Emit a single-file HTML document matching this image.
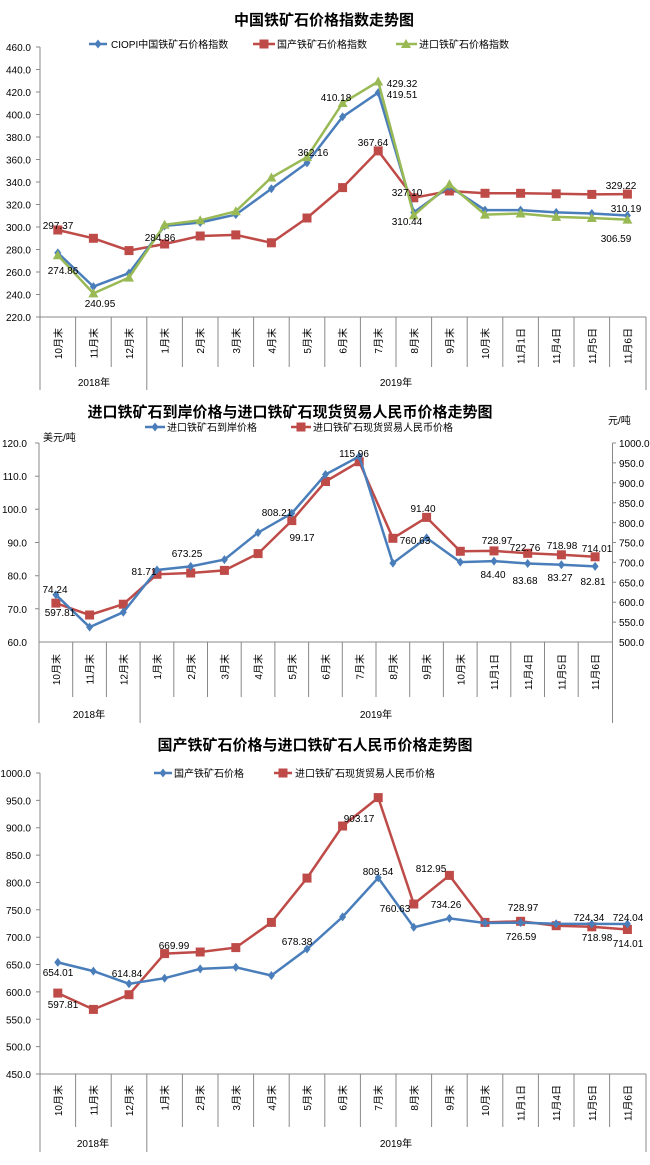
<!DOCTYPE html>
<html><head><meta charset="utf-8"><style>
body{margin:0;background:#fff}
svg{display:block;font-family:"Liberation Sans","Noto Sans CJK SC",sans-serif}
.t{font-size:15px;font-weight:bold;text-anchor:middle}
.a{font-size:10px;text-anchor:end}
.r{font-size:10px;text-anchor:start}
.l{font-size:10px}
.d{font-size:10px;text-anchor:middle}
.c{font-size:10px;text-anchor:end}
.y{font-size:10px;text-anchor:middle}
.ax{stroke:#888;stroke-width:1;fill:none}
.b{stroke:#4a7ebb;stroke-width:2.5;fill:none}
.rd{stroke:#be4b48;stroke-width:2.5;fill:none}
.g{stroke:#98b954;stroke-width:2.5;fill:none}
</style></head><body>
<svg width="650" height="1165" viewBox="0 0 650 1165">
<defs>
<path id="dm" d="M0,-4.5L3.5,0 0,4.5-3.5,0Z" fill="#4a7ebb"/>
<rect id="sq" x="-4.5" y="-4.5" width="9" height="9" fill="#be4b48"/>
<path id="tr" d="M0,-5L5,4-5,4Z" fill="#98b954"/>
</defs>

<!-- ===== Chart 1 ===== -->
<text class="t" x="324" y="25">中国铁矿石价格指数走势图</text>
<line x1="89" y1="44" x2="107" y2="44" class="b"/><use href="#dm" x="98" y="44"/><text class="l" x="111" y="48">CIOPI中国铁矿石价格指数</text>
<line x1="253" y1="44" x2="275" y2="44" class="rd"/><use href="#sq" x="264" y="44"/><text class="l" x="277" y="48">国产铁矿石价格指数</text>
<line x1="396" y1="44" x2="417" y2="44" class="g"/><use href="#tr" x="406" y="44"/><text class="l" x="419" y="48">进口铁矿石价格指数</text>
<path class="ax" d="M40,47V390M40,317H646M36,47H40M36,69.5H40M36,92H40M36,114.5H40M36,137H40M36,159.5H40M36,182H40M36,204.5H40M36,227H40M36,249.5H40M36,272H40M36,294.5H40M36,317H40"/>
<path class="ax" d="M75.6,317V367M111.2,317V367M146.8,317V390M182.4,317V367M218,317V367M253.6,317V367M289.2,317V367M324.8,317V367M360.4,317V367M396,317V367M431.6,317V367M467.2,317V367M502.8,317V367M538.4,317V367M574,317V367M609.6,317V367M646,317V390"/>
<g class="a"><text x="31" y="51">460.0</text><text x="31" y="73.5">440.0</text><text x="31" y="96">420.0</text><text x="31" y="118.5">400.0</text><text x="31" y="141">380.0</text><text x="31" y="163.5">360.0</text><text x="31" y="186">340.0</text><text x="31" y="208.5">320.0</text><text x="31" y="231">300.0</text><text x="31" y="253.5">280.0</text><text x="31" y="276">260.0</text><text x="31" y="298.5">240.0</text><text x="31" y="321">220.0</text></g>
<g class="c">
<text transform="translate(62,328) rotate(-90)">10月末</text><text transform="translate(97.6,328) rotate(-90)">11月末</text><text transform="translate(133,328) rotate(-90)">12月末</text><text transform="translate(168.6,328) rotate(-90)">1月末</text><text transform="translate(204.2,328) rotate(-90)">2月末</text><text transform="translate(239.8,328) rotate(-90)">3月末</text><text transform="translate(275.4,328) rotate(-90)">4月末</text><text transform="translate(311,328) rotate(-90)">5月末</text><text transform="translate(346.6,328) rotate(-90)">6月末</text><text transform="translate(382.2,328) rotate(-90)">7月末</text><text transform="translate(417.8,328) rotate(-90)">8月末</text><text transform="translate(453.4,328) rotate(-90)">9月末</text><text transform="translate(489,328) rotate(-90)">10月末</text><text transform="translate(524.6,328) rotate(-90)">11月1日</text><text transform="translate(560.2,328) rotate(-90)">11月4日</text><text transform="translate(595.8,328) rotate(-90)">11月5日</text><text transform="translate(631.4,328) rotate(-90)">11月6日</text></g>
<text class="y" x="94" y="386">2018年</text><text class="y" x="396" y="386">2019年</text>
<polyline class="rd" points="57.8,230 93.4,238.3 129,250.6 164.6,244 200.2,236 235.8,234.9 271.4,242.8 307,218 342.6,187.6 378.2,150.9 413.8,197.8 449.4,191 485,193.3 520.6,193.3 556.2,193.8 591.8,194.4 627.4,194.1"/>
<g><use href="#sq" x="57.8" y="230"/><use href="#sq" x="93.4" y="238.3"/><use href="#sq" x="129" y="250.6"/><use href="#sq" x="164.6" y="244"/><use href="#sq" x="200.2" y="236"/><use href="#sq" x="235.8" y="234.9"/><use href="#sq" x="271.4" y="242.8"/><use href="#sq" x="307" y="218"/><use href="#sq" x="342.6" y="187.6"/><use href="#sq" x="378.2" y="150.9"/><use href="#sq" x="413.8" y="197.8"/><use href="#sq" x="449.4" y="191"/><use href="#sq" x="485" y="193.3"/><use href="#sq" x="520.6" y="193.3"/><use href="#sq" x="556.2" y="193.8"/><use href="#sq" x="591.8" y="194.4"/><use href="#sq" x="627.4" y="194.1"/></g>
<polyline class="b" points="57.8,252.9 93.4,286.6 129,273.1 164.6,225.9 200.2,222.5 235.8,214.6 271.4,188.8 307,162.9 342.6,116.8 378.2,92.6 413.8,212.4 449.4,186.5 485,210.1 520.6,210.1 556.2,212.4 591.8,213.5 627.4,215.5"/>
<g><use href="#dm" x="57.8" y="252.9"/><use href="#dm" x="93.4" y="286.6"/><use href="#dm" x="129" y="273.1"/><use href="#dm" x="164.6" y="225.9"/><use href="#dm" x="200.2" y="222.5"/><use href="#dm" x="235.8" y="214.6"/><use href="#dm" x="271.4" y="188.8"/><use href="#dm" x="307" y="162.9"/><use href="#dm" x="342.6" y="116.8"/><use href="#dm" x="378.2" y="92.6"/><use href="#dm" x="413.8" y="212.4"/><use href="#dm" x="449.4" y="186.5"/><use href="#dm" x="485" y="210.1"/><use href="#dm" x="520.6" y="210.1"/><use href="#dm" x="556.2" y="212.4"/><use href="#dm" x="591.8" y="213.5"/><use href="#dm" x="627.4" y="215.5"/></g>
<polyline class="g" points="57.8,255.3 93.4,293.4 129,277.6 164.6,224.8 200.2,220.3 235.8,211.3 271.4,177.5 307,157.1 342.6,103 378.2,81.5 413.8,215.3 449.4,184.3 485,214.6 520.6,213.5 556.2,216.9 591.8,218 627.4,219.6"/>
<g><use href="#tr" x="57.8" y="255.3"/><use href="#tr" x="93.4" y="293.4"/><use href="#tr" x="129" y="277.6"/><use href="#tr" x="164.6" y="224.8"/><use href="#tr" x="200.2" y="220.3"/><use href="#tr" x="235.8" y="211.3"/><use href="#tr" x="271.4" y="177.5"/><use href="#tr" x="307" y="157.1"/><use href="#tr" x="342.6" y="103"/><use href="#tr" x="378.2" y="81.5"/><use href="#tr" x="413.8" y="215.3"/><use href="#tr" x="449.4" y="184.3"/><use href="#tr" x="485" y="214.6"/><use href="#tr" x="520.6" y="213.5"/><use href="#tr" x="556.2" y="216.9"/><use href="#tr" x="591.8" y="218"/><use href="#tr" x="627.4" y="219.6"/></g>
<g class="d"><text x="58" y="229">297.37</text><text x="63" y="274">274.86</text><text x="100" y="307">240.95</text><text x="160" y="241">284.86</text><text x="313" y="156">362.16</text><text x="336" y="101">410.18</text><text x="373" y="146">367.64</text><text x="402" y="87">429.32</text><text x="402" y="98">419.51</text><text x="407" y="196">327.10</text><text x="407" y="225">310.44</text><text x="621" y="189">329.22</text><text x="626" y="212">310.19</text><text x="616" y="242">306.59</text></g>

<!-- ===== Chart 2 ===== -->
<text class="t" x="290" y="417">进口铁矿石到岸价格与进口铁矿石现货贸易人民币价格走势图</text>
<line x1="145" y1="427" x2="165" y2="427" class="b"/><use href="#dm" x="155" y="427"/><text class="l" x="167" y="431">进口铁矿石到岸价格</text>
<line x1="291" y1="427" x2="311" y2="427" class="rd"/><use href="#sq" x="301" y="427"/><text class="l" x="313" y="431">进口铁矿石现货贸易人民币价格</text>
<text class="l" x="43" y="441">美元/吨</text><text class="l" x="608" y="424">元/吨</text>
<path class="ax" d="M39,443V723M39,642H612.5M612.5,443V723M35,443H39M35,476.2H39M35,509.3H39M35,542.5H39M35,575.7H39M35,608.8H39M612.5,443H616M612.5,462.9H616M612.5,482.8H616M612.5,502.7H616M612.5,522.6H616M612.5,542.5H616M612.5,562.4H616M612.5,582.3H616M612.5,602.2H616M612.5,622.1H616"/>
<path class="ax" d="M72.7,642V697M106.4,642V697M140.1,642V723M173.8,642V697M207.5,642V697M241.2,642V697M274.9,642V697M308.6,642V697M342.3,642V697M376,642V697M409.7,642V697M443.4,642V697M477.1,642V697M510.8,642V697M544.5,642V697M578.2,642V697"/>
<g class="a"><text x="27" y="447">120.0</text><text x="27" y="480">110.0</text><text x="27" y="513">100.0</text><text x="27" y="546.5">90.0</text><text x="27" y="579.5">80.0</text><text x="27" y="613">70.0</text><text x="27" y="646">60.0</text></g>
<g class="r"><text x="619" y="447">1000.0</text><text x="619" y="467">950.0</text><text x="619" y="487">900.0</text><text x="619" y="507">850.0</text><text x="619" y="527">800.0</text><text x="619" y="546.5">750.0</text><text x="619" y="566.5">700.0</text><text x="619" y="586.5">650.0</text><text x="619" y="606">600.0</text><text x="619" y="626">550.0</text><text x="619" y="646">500.0</text></g>
<g class="c">
<text transform="translate(60,654) rotate(-90)">10月末</text><text transform="translate(93.7,654) rotate(-90)">11月末</text><text transform="translate(127.4,654) rotate(-90)">12月末</text><text transform="translate(161,654) rotate(-90)">1月末</text><text transform="translate(194.8,654) rotate(-90)">2月末</text><text transform="translate(228.5,654) rotate(-90)">3月末</text><text transform="translate(262.2,654) rotate(-90)">4月末</text><text transform="translate(295.9,654) rotate(-90)">5月末</text><text transform="translate(329.6,654) rotate(-90)">6月末</text><text transform="translate(363.3,654) rotate(-90)">7月末</text><text transform="translate(397,654) rotate(-90)">8月末</text><text transform="translate(430.7,654) rotate(-90)">9月末</text><text transform="translate(464.4,654) rotate(-90)">10月末</text><text transform="translate(498.1,654) rotate(-90)">11月1日</text><text transform="translate(531.8,654) rotate(-90)">11月4日</text><text transform="translate(565.5,654) rotate(-90)">11月5日</text><text transform="translate(599.2,654) rotate(-90)">11月6日</text></g>
<text class="y" x="89" y="718">2018年</text><text class="y" x="376" y="718">2019年</text>
<polyline class="rd" points="55.9,603.1 89.6,615 123.3,604.2 157,574.3 190.7,573 224.4,570.4 258.1,553.6 291.8,520.6 325.5,481.5 359.2,461.7 392.9,538.3 426.6,517.4 460.3,551.3 494,550.9 527.7,553.3 561.4,554.8 595.1,556.8"/>
<g><use href="#sq" x="55.9" y="603.1"/><use href="#sq" x="89.6" y="615"/><use href="#sq" x="123.3" y="604.2"/><use href="#sq" x="157" y="574.3"/><use href="#sq" x="190.7" y="573"/><use href="#sq" x="224.4" y="570.4"/><use href="#sq" x="258.1" y="553.6"/><use href="#sq" x="291.8" y="520.6"/><use href="#sq" x="325.5" y="481.5"/><use href="#sq" x="359.2" y="461.7"/><use href="#sq" x="392.9" y="538.3"/><use href="#sq" x="426.6" y="517.4"/><use href="#sq" x="460.3" y="551.3"/><use href="#sq" x="494" y="550.9"/><use href="#sq" x="527.7" y="553.3"/><use href="#sq" x="561.4" y="554.8"/><use href="#sq" x="595.1" y="556.8"/></g>
<polyline class="b" points="55.9,594.8 89.6,627.1 123.3,612.2 157,570 190.7,566.4 224.4,559.6 258.1,532.6 291.8,513.3 325.5,474.5 359.2,456.4 392.9,563.1 426.6,537.9 460.3,562.1 494,561.1 527.7,563.5 561.4,564.8 595.1,566.4"/>
<g><use href="#dm" x="55.9" y="594.8"/><use href="#dm" x="89.6" y="627.1"/><use href="#dm" x="123.3" y="612.2"/><use href="#dm" x="157" y="570"/><use href="#dm" x="190.7" y="566.4"/><use href="#dm" x="224.4" y="559.6"/><use href="#dm" x="258.1" y="532.6"/><use href="#dm" x="291.8" y="513.3"/><use href="#dm" x="325.5" y="474.5"/><use href="#dm" x="359.2" y="456.4"/><use href="#dm" x="392.9" y="563.1"/><use href="#dm" x="426.6" y="537.9"/><use href="#dm" x="460.3" y="562.1"/><use href="#dm" x="494" y="561.1"/><use href="#dm" x="527.7" y="563.5"/><use href="#dm" x="561.4" y="564.8"/><use href="#dm" x="595.1" y="566.4"/></g>
<g class="d"><text x="55" y="593">74.24</text><text x="60" y="616">597.81</text><text x="144" y="575">81.71</text><text x="187" y="557">673.25</text><text x="277" y="516">808.21</text><text x="302" y="541">99.17</text><text x="354" y="457">115.96</text><text x="415" y="544">760.63</text><text x="423" y="512">91.40</text><text x="497" y="544">728.97</text><text x="493" y="578">84.40</text><text x="525" y="551">722.76</text><text x="525" y="584">83.68</text><text x="562" y="549">718.98</text><text x="560" y="581">83.27</text><text x="597" y="552">714.01</text><text x="593" y="585">82.81</text></g>

<!-- ===== Chart 3 ===== -->
<text class="t" x="315" y="750">国产铁矿石价格与进口铁矿石人民币价格走势图</text>
<line x1="154" y1="773" x2="172" y2="773" class="b"/><use href="#dm" x="163" y="773"/><text class="l" x="174" y="777">国产铁矿石价格</text>
<line x1="274" y1="773" x2="292" y2="773" class="rd"/><use href="#sq" x="283" y="773"/><text class="l" x="295" y="777">进口铁矿石现货贸易人民币价格</text>
<path class="ax" d="M40,773V1152M40,1074H646M36,773H40M36,800.4H40M36,827.7H40M36,855.1H40M36,882.5H40M36,909.8H40M36,937.2H40M36,964.5H40M36,991.9H40M36,1019.3H40M36,1046.6H40M36,1074H40"/>
<path class="ax" d="M75.6,1074V1127M111.2,1074V1127M146.8,1074V1152M182.4,1074V1127M218,1074V1127M253.6,1074V1127M289.2,1074V1127M324.8,1074V1127M360.4,1074V1127M396,1074V1127M431.6,1074V1127M467.2,1074V1127M502.8,1074V1127M538.4,1074V1127M574,1074V1127M609.6,1074V1127M646,1074V1152"/>
<g class="a"><text x="31" y="777">1000.0</text><text x="31" y="804.4">950.0</text><text x="31" y="831.7">900.0</text><text x="31" y="859.1">850.0</text><text x="31" y="886.5">800.0</text><text x="31" y="913.8">750.0</text><text x="31" y="941.2">700.0</text><text x="31" y="968.5">650.0</text><text x="31" y="995.9">600.0</text><text x="31" y="1023.3">550.0</text><text x="31" y="1050.6">500.0</text><text x="31" y="1078">450.0</text></g>
<g class="c">
<text transform="translate(62,1085) rotate(-90)">10月末</text><text transform="translate(97.6,1085) rotate(-90)">11月末</text><text transform="translate(133,1085) rotate(-90)">12月末</text><text transform="translate(168.6,1085) rotate(-90)">1月末</text><text transform="translate(204.2,1085) rotate(-90)">2月末</text><text transform="translate(239.8,1085) rotate(-90)">3月末</text><text transform="translate(275.4,1085) rotate(-90)">4月末</text><text transform="translate(311,1085) rotate(-90)">5月末</text><text transform="translate(346.6,1085) rotate(-90)">6月末</text><text transform="translate(382.2,1085) rotate(-90)">7月末</text><text transform="translate(417.8,1085) rotate(-90)">8月末</text><text transform="translate(453.4,1085) rotate(-90)">9月末</text><text transform="translate(489,1085) rotate(-90)">10月末</text><text transform="translate(524.6,1085) rotate(-90)">11月1日</text><text transform="translate(560.2,1085) rotate(-90)">11月4日</text><text transform="translate(595.8,1085) rotate(-90)">11月5日</text><text transform="translate(631.4,1085) rotate(-90)">11月6日</text></g>
<text class="y" x="93" y="1147">2018年</text><text class="y" x="396" y="1147">2019年</text>
<polyline class="rd" points="57.8,993.1 93.4,1009.4 129,994.7 164.6,953.6 200.2,952 235.8,947.6 271.4,922.4 307,878.1 342.6,826 378.2,797.6 413.8,904 449.4,875.4 485,922.4 520.6,921.3 556.2,925.7 591.8,926.8 627.4,929.5"/>
<g><use href="#sq" x="57.8" y="993.1"/><use href="#sq" x="93.4" y="1009.4"/><use href="#sq" x="129" y="994.7"/><use href="#sq" x="164.6" y="953.6"/><use href="#sq" x="200.2" y="952"/><use href="#sq" x="235.8" y="947.6"/><use href="#sq" x="271.4" y="922.4"/><use href="#sq" x="307" y="878.1"/><use href="#sq" x="342.6" y="826"/><use href="#sq" x="378.2" y="797.6"/><use href="#sq" x="413.8" y="904"/><use href="#sq" x="449.4" y="875.4"/><use href="#sq" x="485" y="922.4"/><use href="#sq" x="520.6" y="921.3"/><use href="#sq" x="556.2" y="925.7"/><use href="#sq" x="591.8" y="926.8"/><use href="#sq" x="627.4" y="929.5"/></g>
<polyline class="b" points="57.8,962.4 93.4,971.1 129,983.8 164.6,978.2 200.2,968.9 235.8,967.3 271.4,975.5 307,949 342.6,916.9 378.2,877.8 413.8,927.3 449.4,918.4 485,923 520.6,922.6 556.2,923.8 591.8,923.9 627.4,924"/>
<g><use href="#dm" x="57.8" y="962.4"/><use href="#dm" x="93.4" y="971.1"/><use href="#dm" x="129" y="983.8"/><use href="#dm" x="164.6" y="978.2"/><use href="#dm" x="200.2" y="968.9"/><use href="#dm" x="235.8" y="967.3"/><use href="#dm" x="271.4" y="975.5"/><use href="#dm" x="307" y="949"/><use href="#dm" x="342.6" y="916.9"/><use href="#dm" x="378.2" y="877.8"/><use href="#dm" x="413.8" y="927.3"/><use href="#dm" x="449.4" y="918.4"/><use href="#dm" x="485" y="923"/><use href="#dm" x="520.6" y="922.6"/><use href="#dm" x="556.2" y="923.8"/><use href="#dm" x="591.8" y="923.9"/><use href="#dm" x="627.4" y="924"/></g>
<g class="d"><text x="58" y="976">654.01</text><text x="63" y="1008">597.81</text><text x="127" y="977">614.84</text><text x="174" y="949">669.99</text><text x="297" y="945">678.38</text><text x="359" y="822">903.17</text><text x="378" y="875">808.54</text><text x="395" y="912">760.63</text><text x="431" y="872">812.95</text><text x="446" y="908">734.26</text><text x="523" y="911">728.97</text><text x="521" y="940">726.59</text><text x="589" y="921">724.34</text><text x="597" y="941">718.98</text><text x="628" y="921">724.04</text><text x="628" y="947">714.01</text></g>
</svg>
</body></html>
